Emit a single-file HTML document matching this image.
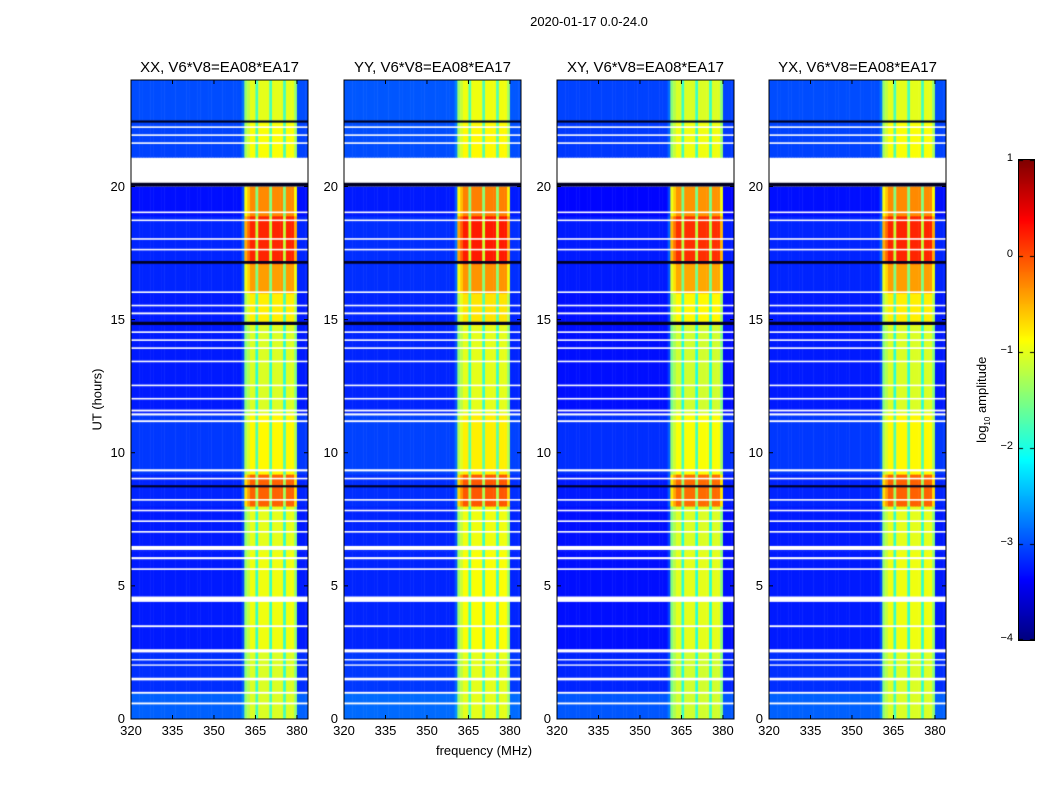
<!DOCTYPE html>
<html><head><meta charset="utf-8">
<style>
body{margin:0;background:#fff;font-family:"Liberation Sans",sans-serif;}
#root{position:relative;width:1050px;height:800px;overflow:hidden;background:#fff;}
.t{position:absolute;white-space:nowrap;color:#000;}
canvas{position:absolute;}
</style></head><body>
<div id="root">
<div class="t" style="left:489px;top:14px;width:200px;text-align:center;font-size:13px;">2020-01-17 0.0-24.0</div>
<div class="t" style="left:384px;top:743px;width:200px;text-align:center;font-size:13px;">frequency (MHz)</div>
<div class="t" style="left:47px;top:392px;width:100px;text-align:center;font-size:13px;transform:rotate(-90deg);">UT (hours)</div>
<div class="t" style="left:923px;top:391px;width:120px;text-align:center;font-size:13px;transform:rotate(-90deg);">log<sub style="font-size:8px">10</sub> amplitude</div>
</div>
<script>
// ---- data ----
const panelTitles = ["XX, V6*V8=EA08*EA17","YY, V6*V8=EA08*EA17","XY, V6*V8=EA08*EA17","YX, V6*V8=EA08*EA17"];
const panelOffsets = [0, 0.05, -0.05, 0];
const xTicks = [320,335,350,365,380];
const yTicks = [0,5,10,15,20];
const cbTicks = [1,0,-1,-2,-3,-4];
const freqStart = 320, freqStep = 1;
// band mask per 1-MHz channel, 320..383 (0=background, 1=bright band, <1 = gap)
const bandMask = [0,0,0,0,0,0,0,0,0,0, 0,0,0,0,0,0,0,0,0,0, 0,0,0,0,0,0,0,0,0,0, 0,0,0,0,0,0,0,0,0,0, 0.1,0.8,0.9,1,1,0.6,1,1,1,1, 0.6,1,1,1,1,0.6,1,1,1,0.8, 0,0,0,0];
// segments in hours: start, end, background level, band level
const segStart = [0, 1.0, 2.5, 6.3, 8.0, 9.2, 11.5, 14.8, 16.0, 17.1, 18.9, 21.1, 22.4];
const segEnd   = [1.0, 2.5, 6.3, 8.0, 9.2, 11.5, 14.8, 16.0, 17.1, 18.9, 20.0, 22.4, 24];
const segBg    = [-2.9,-3.15,-3.25,-3.25,-3.2,-3.1,-3.25,-3.25,-3.2,-3.2,-3.3,-3.05,-3.0];
const segBand  = [-1.05,-1.05,-0.95,-1.0,-0.1,-0.85,-1.05,-0.8,-0.4,0.2,-0.3,-0.9,-1.0];
// flagged rows: start, end, type (w = blank, k = dark)
const flagStart = [0.55,0.95,1.45,2.0,2.2,2.5,3.45,4.4,5.6,6.0,6.35,7.0,7.4,7.8,8.2,8.7,9.0,9.3,11.15,11.4,11.55,12.0,12.5,13.4,13.9,14.2,14.5,14.8,15.2,15.5,16.0,17.1,17.6,18.0,18.7,19.0,20.0,20.15,21.6,21.9,22.2,22.4];
const flagEnd   = [0.62,1.02,1.55,2.05,2.25,2.62,3.52,4.6,5.66,6.08,6.5,7.06,7.46,7.86,8.26,8.78,9.06,9.38,11.22,11.48,11.62,12.06,12.56,13.46,13.96,14.26,14.56,14.92,15.27,15.56,16.06,17.2,17.66,18.06,18.76,19.06,20.15,21.05,21.66,21.96,22.26,22.48];
const flagType  = ["w","w","w","w","w","w","w","w","w","w","w","w","w","w","w","k","w","w","w","w","w","w","w","w","w","w","w","k","w","w","w","k","w","w","w","w","k","w","w","w","w","k"];

// ---- helpers ----
function jet(v){const t=Math.max(0,Math.min(1,(v+4)/5));
 const f=x=>Math.round(255*Math.max(0,Math.min(1,x)));
 return `rgb(${f(1.5-Math.abs(4*t-3))},${f(1.5-Math.abs(4*t-2))},${f(1.5-Math.abs(4*t-1))})`;}
const root=document.getElementById('root');
const panelX=[131,344,557,769], PW=177, PT=80, PH=639;
const xMin=320, xMax=384, yMin=0, yMax=24;
function addText(txt,l,t,w,align,size,name){const d=document.createElement('div');d.className='t';d.textContent=txt;
 d.style.cssText=`left:${l}px;top:${t}px;width:${w}px;text-align:${align};font-size:${size}px;`;
 
 
 root.appendChild(d);return d;}

panelX.forEach((px,p)=>{
 const sx=f=>(f-xMin)/(xMax-xMin)*PW;
 const sy=h=>PH-(h-yMin)/(yMax-yMin)*PH;
 const c=document.createElement('canvas');c.width=PW;c.height=PH;
 c.style.left=px+'px';c.style.top=PT+'px';
 
 
 root.appendChild(c);
 const g=c.getContext('2d');
 g.fillStyle='#fff';g.fillRect(0,0,PW,PH);
 for(let s=0;s<segStart.length;s++){
  for(let b=0;b<bandMask.length;b++){
   const f0=freqStart+b*freqStep, m=bandMask[b];
   const v=segBg[s]+m*(segBand[s]-segBg[s])+panelOffsets[p];
   g.fillStyle=jet(v);
   const x0=sx(f0),x1=sx(f0+freqStep),y0=sy(segEnd[s]),y1=sy(segStart[s]);
   g.fillRect(x0,y0,x1-x0+0.5,y1-y0+0.5);
  }
 }
 for(let i=0;i<flagStart.length;i++){
  g.fillStyle=flagType[i]==='w'?'#fff':'#000022';
  const y0=sy(flagEnd[i]),y1=sy(flagStart[i]);
  g.fillRect(0,y0,PW,Math.max(1,y1-y0));
 }
 const sv=document.createElementNS('http://www.w3.org/2000/svg','svg');
 sv.setAttribute('width',PW+2);sv.setAttribute('height',PH+2);
 sv.style.cssText=`position:absolute;left:${px-1}px;top:${PT-1}px;overflow:visible`;
 
 
 let h=`<rect x="1" y="1" width="${PW}" height="${PH}" fill="none" stroke="#000" stroke-width="1"/>`;
 xTicks.forEach(t=>{const x=sx(t)+1;h+=`<line x1="${x}" y1="${PH+1}" x2="${x}" y2="${PH-3}" stroke="#000"/><line x1="${x}" y1="1" x2="${x}" y2="5" stroke="#000"/>`;});
 yTicks.forEach(t=>{const y=sy(t)+1;h+=`<line x1="1" y1="${y}" x2="5" y2="${y}" stroke="#000"/><line x1="${PW+1}" y1="${y}" x2="${PW-3}" y2="${y}" stroke="#000"/>`;});
 sv.innerHTML=h;root.appendChild(sv);
 xTicks.forEach(t=>addText(String(t),px+sx(t)-20,723,40,'center',13,'x-tick-label'));
 yTicks.forEach(t=>addText(String(t),px-44,PT+sy(t)-8,38,'right',13,'y-tick-label'));
 addText(panelTitles[p],px-20,59,PW+40,'center',15,'panel-title');
});

(function(){
 const cx=1019,cy=160,cw=15,ch=480,vMin=-4,vMax=1;
 const sy=v=>(vMax-v)/(vMax-vMin)*ch;
 const c=document.createElement('canvas');c.width=cw;c.height=ch;
 c.style.left=cx+'px';c.style.top=cy+'px';c.style.outline='1px solid #000';
 
 
 root.appendChild(c);
 const g=c.getContext('2d');
 for(let y=0;y<ch;y++){g.fillStyle=jet(vMax-(y+0.5)/ch*(vMax-vMin));g.fillRect(0,y,cw,1);}
 g.fillStyle='#000';
 cbTicks.forEach(t=>{const y=Math.min(ch-1,Math.round(sy(t)));g.fillRect(0,y,4,1);g.fillRect(cw-4,y,4,1);
  addText(t<0?'\u2212'+(-t):String(t),cx-44,cy+sy(t)-8,38,'right',11,'colorbar-tick-label');});
})();
</script>
</body></html>
